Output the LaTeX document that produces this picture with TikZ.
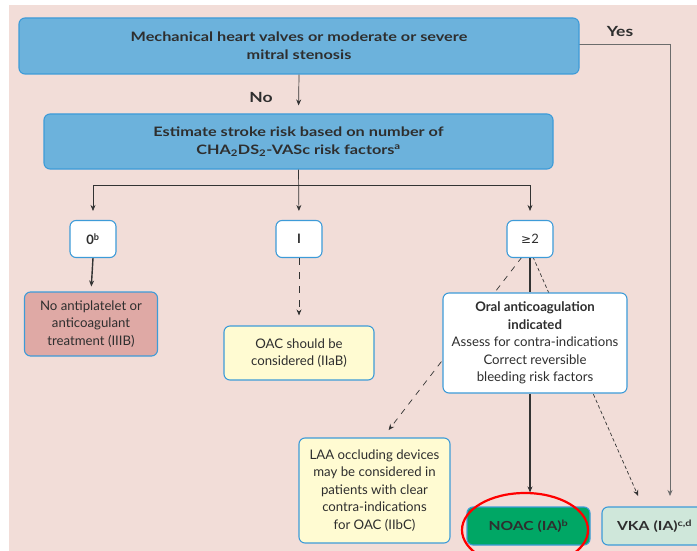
\documentclass[tikz,border=0pt]{standalone}
\usepackage{fontspec}
\setmainfont{Lato}
\newfontfamily\widebold{Lato}[UprightFont={* Bold}, FakeStretch=1.25]
\newfontfamily\symfont{DejaVu Sans}
\usetikzlibrary{arrows.meta}
\definecolor{bgpink}{HTML}{F2DDD8}
\definecolor{bluefill}{HTML}{6CB2DC}
\definecolor{blueline}{HTML}{3D9BD8}
\definecolor{pinkfill}{HTML}{DFA9A5}
\definecolor{yellowfill}{HTML}{FFFBD2}
\definecolor{noacgreen}{HTML}{00A765}
\definecolor{vkagreen}{HTML}{CFE7DA}
\definecolor{txt}{HTML}{2E2E2E}
\definecolor{lin}{HTML}{333333}
\tikzset{
  box/.style={draw=blueline, line width=1.1pt, rounded corners=6pt, align=center, text=txt, inner sep=0pt},
  bigbox/.style={box, fill=bluefill, font=\fontsize{13}{18}\widebold},
  smallbox/.style={box, fill=white, font=\fontsize{13}{16}\selectfont\bfseries, minimum width=46pt, minimum height=37pt},
  txtbox/.style={box, font=\fontsize{13.2}{17.5}\selectfont},
  conn/.style={draw=lin, line width=0.7pt},
  arr/.style={conn, -{Stealth[length=6pt,width=5pt]}},
  thickarr/.style={arr, line width=1.4pt},
  lbl/.style={font=\fontsize{14}{16}\widebold, text=txt}
}
\begin{document}
\begin{tikzpicture}[x=1pt,y=-1pt]
\useasboundingbox (0,0) rectangle (697,551);
\clip (0,0) rectangle (697,551);
\fill[bgpink] (9,5) rectangle (697,551);

% connectors (drawn first, boxes cover them)
\coordinate (split) at (299,185);
\coordinate (vkain) at (670,507);
\coordinate (yescorner) at (670,44);
\coordinate (b1yes) at (579,44);
\coordinate (laain) at (382.5,438);
\coordinate (vkadot) at (643,507);
\coordinate (b2pl) at (522,257);
\coordinate (b2pr) at (533,257);
\draw[conn, draw=gray!85!black] (b1yes) -- (yescorner);
\draw[arr, draw=gray!85!black, shorten >=11pt] (yescorner) -- (vkain);
\draw[arr, dash pattern=on 6pt off 6pt, shorten >=10pt] (b2pl) -- (laain);
\draw[arr, dash pattern=on 3.5pt off 2.5pt, shorten >=12pt] (b2pr) -- (vkadot);

% nodes
\node[bigbox, minimum width=560pt, minimum height=56pt] (b1) at (299,46) {Mechanical heart valves or moderate or severe\\mitral stenosis};
\node[bigbox, minimum width=509pt, minimum height=55pt] (b2) at (298.5,141.5) {Estimate stroke risk based on number of\\CHA\textsubscript{2}DS\textsubscript{2}-VASc risk factors\textsuperscript{a}};
\node[smallbox] (b0) at (93,239) {0\textsuperscript{b}};
\node[smallbox] (bI) at (299,239) {I};
\node[smallbox, font=\fontsize{13}{16}\selectfont] (b2p) at (530,239) {{\symfont\fontsize{12}{16}\selectfont ≥}2};
\node[txtbox, fill=pinkfill, minimum width=133pt, minimum height=64pt] (noat) at (91,324) {No antiplatelet or\\anticoagulant\\treatment (IIIB)};
\node[txtbox, fill=yellowfill, minimum width=150pt, minimum height=54pt] (oac) at (299,353) {OAC should be\\considered (IIaB)};
\node[txtbox, fill=white, minimum width=184pt, minimum height=100pt] (oral) at (535,343) {\textbf{Oral anticoagulation}\\\textbf{indicated}\\Assess for contra-indications\\Correct reversible\\bleeding risk factors};
\node[txtbox, fill=yellowfill, minimum width=151pt, minimum height=105pt] (laa) at (374.5,490.5) {LAA occluding devices\\may be considered in\\patients with clear\\contra-indications\\for OAC (IIbC)};
\node[txtbox, fill=noacgreen, minimum width=123pt, minimum height=38pt, font=\fontsize{12.5}{15}\widebold] (noac) at (528.5,526) {NOAC (IA)\textsuperscript{b}};
\node[txtbox, fill=vkagreen, minimum width=110pt, minimum height=38pt, font=\fontsize{12.5}{15}\widebold, text width=80pt, align=left] (vka) at (657,526) {VKA (IA)\textsuperscript{c,d}};

\node[lbl] (yes) at (620,31) {Yes};
\node[lbl] (no) at (261,97) {No};

\draw[arr, shorten >=8pt] (b1.south) -- (b2.north);
\draw[arr, shorten >=9pt] (b2.south) -- (bI.north);
\draw[arr, shorten >=9pt] (split) -| (b0.north);
\draw[arr, shorten >=9pt] (split) -| (b2p.north);
\draw[thickarr, shorten >=5pt] (b0.south) -- (noat.north);
\draw[arr, dash pattern=on 7pt off 7pt, shorten >=10pt] (bI.south) -- (oac.north);
\draw[conn, line width=1.4pt] (b2p.south) -- (b2p.south |- oral.north);
\draw[thickarr, shorten >=14pt] (b2p.south |- oral.south) -- (b2p.south |- noac.north);

\draw[red, line width=2.2pt] (525,530) ellipse (63pt and 37pt);
\end{tikzpicture}
\end{document}
